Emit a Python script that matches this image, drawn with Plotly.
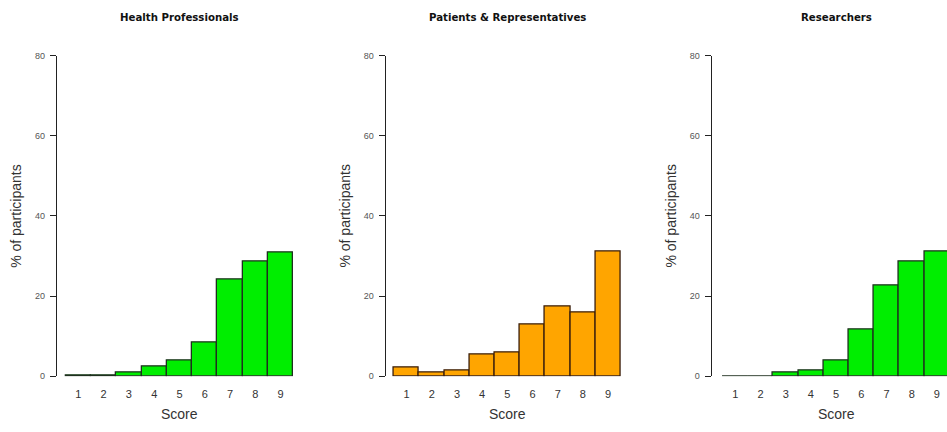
import plotly.graph_objects as go

scores = [1, 2, 3, 4, 5, 6, 7, 8, 9]
titles = ["Health Professionals", "Patients & Representatives", "Researchers"]
health_prof = [0.3, 0.3, 1.0, 2.4, 3.9, 8.4, 24.0, 28.7, 30.9]
patients = [2.1, 0.9, 1.5, 5.4, 6.0, 12.9, 17.4, 15.9, 31.1]
researchers = [0.0, 0.0, 0.9, 1.5, 3.9, 11.7, 22.6, 28.5, 31.1]
y_ticks = [0, 20, 40, 60, 80]

series = [health_prof, patients, researchers]
fills = ["#00ee00", "#ffa500", "#00ee00"]
edges = ["#1f2f1f", "#3a1e0c", "#1f2f1f"]

W, H = 947, 432
# pixel layout: y-axis line x, first bar left edge, bar width, right end of panel
panels_px = [(57.0, 65.7, 25.29, 300.0), (385.7, 394.0, 25.19, 628.0), (711.7, 722.7, 25.2, 947.0)]
y0_px, y80_px = 380.0, 51.7

fig = go.Figure()
annotations = []
for i, (vals, fc, ec, (ax_px, b0, bw, end_px)) in enumerate(zip(series, fills, edges, panels_px)):
    n = "" if i == 0 else str(i + 1)
    fig.add_trace(go.Bar(x=scores, y=vals, width=1, marker=dict(color=fc, line=dict(color=ec, width=1.3)),
                         xaxis="x" + n, yaxis="y" + n, showlegend=False, hoverinfo="x+y"))
    xr0 = 0.5 - (b0 - ax_px) / bw
    xr1 = 0.5 + (end_px - b0) / bw
    dom = [ax_px / W, min(end_px / W, 1.0)]
    fig.layout["xaxis" + n] = dict(domain=dom, range=[xr0, xr1], anchor="y" + n, showline=False,
                                   showgrid=False, zeroline=False, tickmode="array", tickvals=scores,
                                   ticktext=[str(s) for s in scores], ticks="", ticklabelstandoff=10,
                                   tickfont=dict(size=11, color="#333333", family="Liberation Sans"))
    fig.layout["yaxis" + n] = dict(domain=[(H - y0_px) / H, (H - y80_px) / H], range=[0, 80],
                                   anchor="x" + n, showline=True, linecolor="#222222", linewidth=1.2,
                                   ticks="outside", ticklen=6, tickwidth=1.2, tickcolor="#222222",
                                   tickvals=y_ticks, showgrid=False, zeroline=False,
                                   ticklabelstandoff=3,
                                   tickfont=dict(size=9, color="#555555", family="Liberation Sans"))
    annotations.append(dict(text="<b>" + titles[i] + "</b>", xref="x" + n, x=5, yref="paper", y=1 - 13 / H,
                            showarrow=False, xanchor="center", yanchor="middle",
                            font=dict(size=10.2, color="#111111", family="DejaVu Sans")))
    annotations.append(dict(text="Score", xref="x" + n, x=5, yref="paper", y=1 - 419 / H,
                            showarrow=False, xanchor="center", yanchor="middle",
                            font=dict(size=14, color="#333333", family="Liberation Sans")))
    annotations.append(dict(text="% of participants", xref="paper", x=(ax_px - 41) / W, yref="y" + n, y=40,
                            showarrow=False, xanchor="center", yanchor="middle", textangle=-90,
                            font=dict(size=14, color="#333333", family="Liberation Sans")))

fig.update_layout(width=W, height=H, margin=dict(l=0, r=0, t=0, b=0), plot_bgcolor="white",
                  paper_bgcolor="white", annotations=annotations, bargap=0)
fig.write_html("out.html", config={"displayModeBar": False},
               post_script="document.body.style.margin='0';document.body.style.overflow='hidden';")
